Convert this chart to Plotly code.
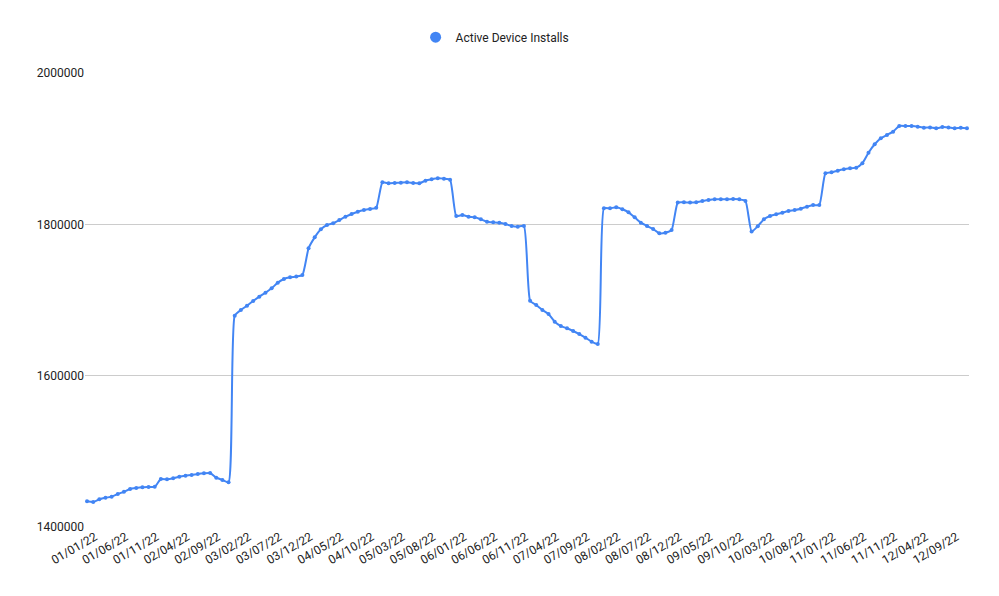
import plotly.graph_objects as go

# Categories: MM/DD/YY, days 1-12 of each month
months = list(range(1, 13))
days = list(range(1, 13))
categories = [f"{m:02d}/{d:02d}/22" for m in months for d in days]

jan = [1434000, 1433000, 1436600, 1438700, 1440000, 1443600, 1446600, 1450200, 1451500, 1452400, 1452800, 1453200]
feb = [1463400, 1463000, 1464300, 1466500, 1467800, 1468700, 1470000, 1470900, 1471300, 1465100, 1462100, 1459000]
mar = [1679300, 1686800, 1692500, 1698700, 1704400, 1709700, 1715500, 1722900, 1727800, 1730000, 1730900, 1733000]
apr = [1768300, 1782800, 1793400, 1799100, 1801400, 1805700, 1810100, 1813700, 1816700, 1818900, 1820300, 1822000]
may = [1855500, 1854200, 1854600, 1855000, 1855500, 1854600, 1854200, 1857700, 1859500, 1860800, 1860400, 1859000]
jun = [1811000, 1812300, 1810100, 1809300, 1806700, 1803500, 1802700, 1802200, 1800500, 1797800, 1796900, 1797800]
jul = [1699100, 1693300, 1686800, 1681500, 1671300, 1665600, 1662600, 1659000, 1655000, 1650200, 1644900, 1641800]
aug = [1821200, 1821200, 1822500, 1819900, 1815900, 1809300, 1802200, 1797800, 1793800, 1788200, 1789000, 1792500]
sep = [1828700, 1829200, 1828700, 1829200, 1830700, 1832100, 1833000, 1833000, 1833000, 1833500, 1833000, 1831000]
oct_ = [1790500, 1797500, 1806700, 1811000, 1813300, 1815400, 1817600, 1818900, 1820700, 1823300, 1825500, 1825500]
nov = [1867400, 1868800, 1870900, 1872700, 1874000, 1874900, 1880700, 1894700, 1905800, 1913700, 1918100, 1922500]
dec = [1930000, 1930000, 1929800, 1929100, 1927700, 1928100, 1926900, 1928500, 1928100, 1926900, 1927700, 1926900]

installs = jan + feb + mar + apr + may + jun + jul + aug + sep + oct_ + nov + dec

y_ticks = [1400000, 1600000, 1800000, 2000000]
x_tick_labels = categories[::5]

BLUE = "#4285F4"

fig = go.Figure()
fig.add_trace(go.Scatter(
    x=categories, y=installs,
    mode="lines+markers",
    line=dict(color=BLUE, width=2, shape="spline", smoothing=0.5),
    marker=dict(color=BLUE, size=4),
    showlegend=False,
))
# legend entry (circle only)
fig.add_trace(go.Scatter(
    x=[None], y=[None], mode="markers",
    marker=dict(color=BLUE, size=11),
    name="Active Device Installs",
))

fig.update_layout(
    width=983, height=580,
    margin=dict(l=77, r=22, t=65, b=61),
    paper_bgcolor="white", plot_bgcolor="white",
    font=dict(family="Roboto, Arial, sans-serif", size=12, color="#222222"),
    legend=dict(orientation="h", x=0.374, xanchor="left", y=1.079, yanchor="middle",
                font=dict(size=12, color="#222222"), itemsizing="trace"),
    xaxis=dict(
        type="category",
        range=[-0.33, 143.33],
        tickmode="array", tickvals=x_tick_labels, ticktext=x_tick_labels,
        tickangle=-30, showgrid=False, showline=False, ticks="",
        ticklabelshift=8,
        tickfont=dict(size=12, color="#222222"),
    ),
    yaxis=dict(
        range=[1400000, 2000000],
        tickmode="array", tickvals=y_ticks, ticktext=[str(v) for v in y_ticks],
        showgrid=True, gridcolor="#cccccc", gridwidth=1,
        zeroline=False, showline=False, ticks="", ticklen=0,
        tickfont=dict(size=12, color="#222222"),
    ),
)

fig.write_html("out.html")
